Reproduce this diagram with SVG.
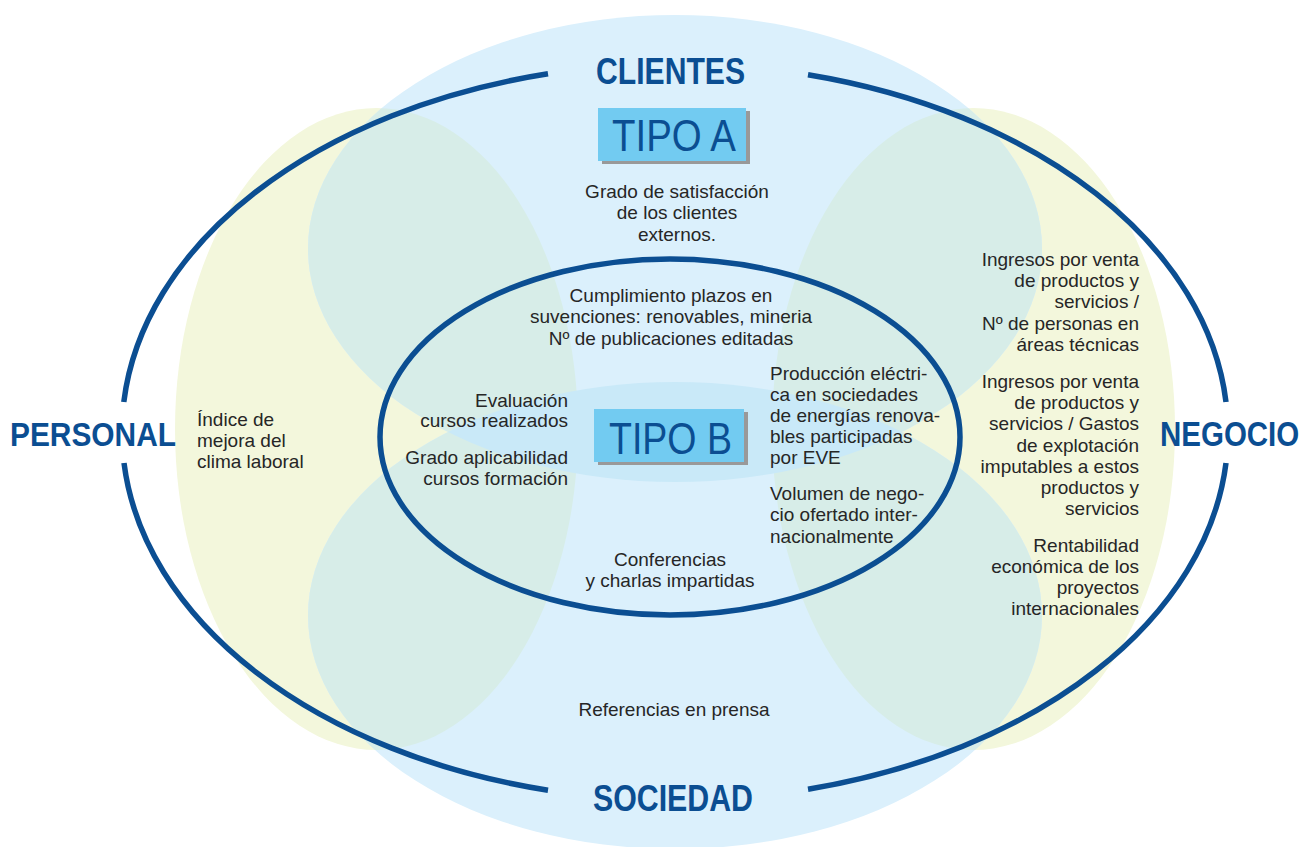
<svg xmlns="http://www.w3.org/2000/svg" width="1305" height="847" viewBox="0 0 1305 847">
<defs>
<style>
.b{fill:#DBF0FC}
.y{fill:#F3F7DC}
.g{fill:#D7EDE8}
.bb{fill:#C9E9F8}
.ring{fill:none;stroke:#0B4E92;stroke-width:5.5}
.head{font-family:"Liberation Sans",Arial,sans-serif;font-weight:bold;fill:#0B4E92}
.tipo{font-family:"Liberation Sans",Arial,sans-serif;font-size:45px;fill:#0B4E92}
.box{fill:#72CBF1}
.sh{fill:#999999}
.t{font-family:"Liberation Sans",Arial,sans-serif;font-size:19px;fill:#262626}
.c{text-anchor:middle}
.r{text-anchor:end}
</style>
<clipPath id="cTop"><ellipse cx="675" cy="248.5" rx="367" ry="233.5"/></clipPath>
<clipPath id="cBot"><ellipse cx="675" cy="615.5" rx="367" ry="233.5"/></clipPath>
</defs>
<rect width="1305" height="847" fill="#FFFFFF"/>
<g id="regions">
<ellipse class="y" cx="376.5" cy="429" rx="201.5" ry="321"/>
<ellipse class="y" cx="973.5" cy="429" rx="201.5" ry="321"/>
<ellipse class="b" cx="675" cy="248.5" rx="367" ry="233.5"/>
<ellipse class="b" cx="675" cy="615.5" rx="367" ry="233.5"/>
<g clip-path="url(#cTop)">
<ellipse class="g" cx="376.5" cy="429" rx="201.5" ry="321"/>
<ellipse class="g" cx="973.5" cy="429" rx="201.5" ry="321"/>
</g>
<g clip-path="url(#cBot)">
<ellipse class="g" cx="376.5" cy="429" rx="201.5" ry="321"/>
<ellipse class="g" cx="973.5" cy="429" rx="201.5" ry="321"/>
</g>
<ellipse class="bb" clip-path="url(#cBot)" cx="675" cy="248.5" rx="367" ry="233.5"/>
</g>
<g id="connectors">
<path class="ring" d="M548 73.8 A553 368 0 0 0 123.8 402"/>
<path class="ring" d="M124 463 A553 368 0 0 0 548 790.2"/>
<path class="ring" d="M808 789.2 A553 368 0 0 0 1226 463"/>
<path class="ring" d="M1226 402 A553 368 0 0 0 808 74.8"/>
<ellipse class="ring" cx="670" cy="437" rx="290" ry="178"/>
</g>
<g id="clientes"><text class="head" x="596" y="84" font-size="37" textLength="149" lengthAdjust="spacingAndGlyphs">CLIENTES</text></g>
<g id="sociedad"><text class="head" x="593" y="811" font-size="37" textLength="160" lengthAdjust="spacingAndGlyphs">SOCIEDAD</text></g>
<g id="personal"><text class="head" x="10" y="446" font-size="34" textLength="166" lengthAdjust="spacingAndGlyphs">PERSONAL</text></g>
<g id="negocio"><text class="head" transform="translate(1160,446) scale(1,1.19)" x="0" y="0" font-size="29.5">NEGOCIO</text></g>
<g id="tipo-a">
<rect class="sh" x="602" y="111" width="148" height="53"/>
<rect class="box" x="598" y="108" width="148" height="53"/>
<text class="tipo" x="612" y="151" textLength="124" lengthAdjust="spacingAndGlyphs">TIPO A</text>
</g>
<g id="tipo-b">
<rect class="sh" x="598" y="412" width="150" height="53"/>
<rect class="box" x="594" y="409" width="150" height="53"/>
<text class="tipo" x="609" y="454" textLength="123" lengthAdjust="spacingAndGlyphs">TIPO B</text>
</g>
<g id="clientes-a">
<text class="t c" x="677" y="198">Grado de satisfacción</text>
<text class="t c" x="677" y="219">de los clientes</text>
<text class="t c" x="677" y="241">externos.</text>
</g>
<g id="clientes-b">
<text class="t c" x="671" y="302">Cumplimiento plazos en</text>
<text class="t c" x="671" y="323">suvenciones: renovables, mineria</text>
<text class="t c" x="671" y="345">Nº de publicaciones editadas</text>
</g>
<g id="personal-b">
<text class="t r" x="568" y="407">Evaluación</text>
<text class="t r" x="568" y="427">cursos realizados</text>
<text class="t r" x="568" y="464">Grado aplicabilidad</text>
<text class="t r" x="568" y="485">cursos formación</text>
</g>
<g id="negocio-b">
<text class="t" x="770" y="380">Producción eléctri-</text>
<text class="t" x="770" y="401">ca en sociedades</text>
<text class="t" x="770" y="422">de energías renova-</text>
<text class="t" x="770" y="443">bles participadas</text>
<text class="t" x="770" y="464">por EVE</text>
<text class="t" x="770" y="500">Volumen de nego-</text>
<text class="t" x="770" y="521">cio ofertado inter-</text>
<text class="t" x="770" y="543">nacionalmente</text>
</g>
<g id="sociedad-b">
<text class="t c" x="670" y="566">Conferencias</text>
<text class="t c" x="670" y="587">y charlas impartidas</text>
</g>
<g id="sociedad-a">
<text class="t c" x="674" y="716">Referencias en prensa</text>
</g>
<g id="personal-a">
<text class="t" x="197" y="426">Índice de</text>
<text class="t" x="197" y="447">mejora del</text>
<text class="t" x="197" y="468">clima laboral</text>
</g>
<g id="negocio-a">
<text class="t r" x="1139" y="266">Ingresos por venta</text>
<text class="t r" x="1139" y="287">de productos y</text>
<text class="t r" x="1139" y="308">servicios /</text>
<text class="t r" x="1139" y="330">Nº de personas en</text>
<text class="t r" x="1139" y="351">áreas técnicas</text>
<text class="t r" x="1139" y="388">Ingresos por venta</text>
<text class="t r" x="1139" y="409">de productos y</text>
<text class="t r" x="1139" y="430">servicios / Gastos</text>
<text class="t r" x="1139" y="452">de explotación</text>
<text class="t r" x="1139" y="473">imputables a estos</text>
<text class="t r" x="1139" y="494">productos y</text>
<text class="t r" x="1139" y="515">servicios</text>
<text class="t r" x="1139" y="552">Rentabilidad</text>
<text class="t r" x="1139" y="573">económica de los</text>
<text class="t r" x="1139" y="594">proyectos</text>
<text class="t r" x="1139" y="615">internacionales</text>
</g>
</svg>
